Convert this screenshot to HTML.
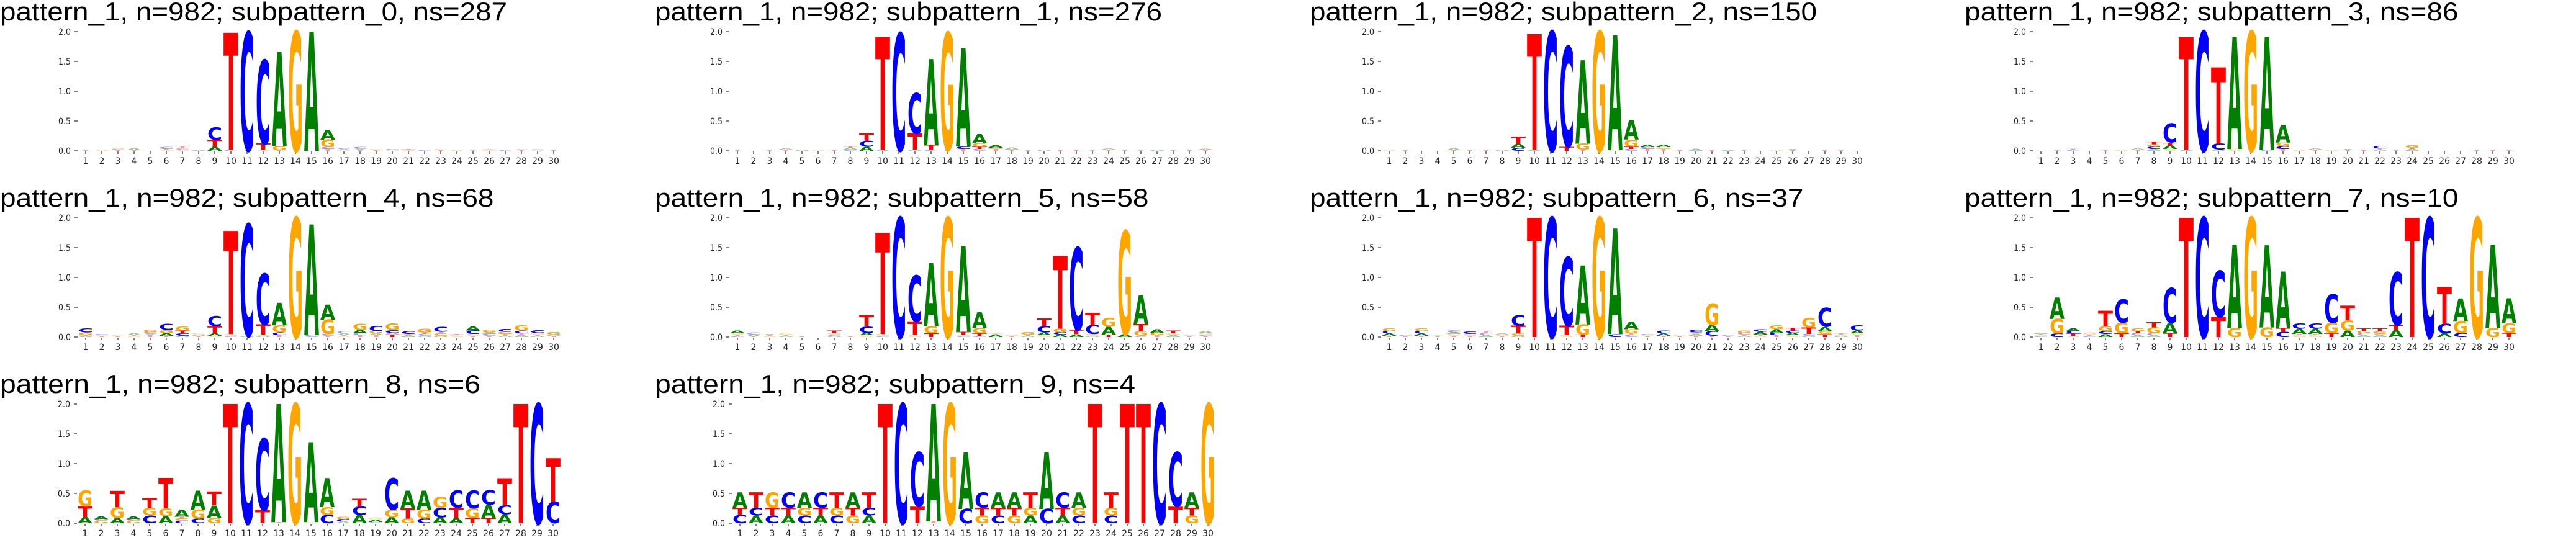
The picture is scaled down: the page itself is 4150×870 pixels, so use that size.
<!DOCTYPE html>
<html><head><meta charset="utf-8"><style>
html,body{margin:0;padding:0;background:#fff;width:4150px;height:870px;overflow:hidden}
svg{display:block}
.ttl{font-family:"Liberation Sans Narrow","Liberation Sans",sans-serif;font-size:42px;fill:#000}
.tk{font-family:"DejaVu Sans","Liberation Sans",sans-serif;font-size:14px;fill:#222}
.lt{font-family:"DejaVu Sans",sans-serif;font-weight:bold;font-size:100px}
</style></head><body>
<svg id="chart" width="4150" height="870" xmlns="http://www.w3.org/2000/svg"></svg>
<script>
// Data: per-panel titles, and per-position letter stacks (bottom to top), heights in hundredths of bits
const titles = [
 "pattern_1, n=982; subpattern_0, ns=287","pattern_1, n=982; subpattern_1, ns=276",
 "pattern_1, n=982; subpattern_2, ns=150","pattern_1, n=982; subpattern_3, ns=86",
 "pattern_1, n=982; subpattern_4, ns=68","pattern_1, n=982; subpattern_5, ns=58",
 "pattern_1, n=982; subpattern_6, ns=37","pattern_1, n=982; subpattern_7, ns=10",
 "pattern_1, n=982; subpattern_8, ns=6","pattern_1, n=982; subpattern_9, ns=4"];
const positions = [1,2,3,4,5,6,7,8,9,10,11,12,13,14,15,16,17,18,19,20,21,22,23,24,25,26,27,28,29,30];
const yTicks = [0.0,0.5,1.0,1.5,2.0];
const logo0 = ["T1","G2","T1C2G2","T1A3","","G2T1C3","G2C2T3","A1","A7T12C21","C1T197","T1C198","G2T10C140","T1G7A158","G200","A200","T3C3G13A16","G1A2C2","T1A2C3","T1G2","G1C2","G1T2","C2","T1G2","G2","T1","G1T1","C2","T1C1","G1C1","T1"];
const logo1 = ["T2","","T1","T2A2","A2","G1","T1","C2A3T2","A7C10T12","A1T190","T1C196","A2T27C68","C2T8A144","T2G196","T3C4A165","C3T4G6A15","T3G2A5","T2A3","T1","A2","T1","T2","T1","T2A2","T1","T1","A2","T1","T1","T2A1"];
const logo2 = ["G1","T1","","","T1A3","T1","T2","A2","C5A7T12","A1T195","C200","T7C168","T2G10A140","G200","G1A193","C3T4G12A33","T3C3A4","T3G3A4","T1","A3","T1","A1","T1","","G1","T1A2","","T1","T1",""];
const logo3 = ["","T1","C2T1","","T1","G1","T2A2","A3C4G4T5","G3A6T5C32","A1T190","C200","A2C10T128","G3A188","G200","C2A189","T3C5G6A30","G2","T2A2","G2","T1A2","T1","A2T2C4","T1","A3T2G4","","","","T1","T1","T1"];
const logo4 = ["A1T2G5C7","T1G2C2","T1G2","G2T1A3","T3A2C3G4","T2A5G5C10","A2C4T5G7","T2A2G2","G2A4T12C17","C2G3T173","A2C187","A2G2T17C85","T3C5G12A38","G200","C3A186","T2C3G24A25","G2T1A3C3","T3C3A6G10","T3A3G4C9","T4A3C5G11","A3T2C5","A2C3T3G6","A2G4T3C8","G3T2","T2G3C6A7","T2C3A3G4","A2T3G4C5","A3T3C5G9","A2T2G3C5","T2A2G4"];
const logo5 = ["C2T2G3A4","T1A3C3","G2T1A2","A2T1G3","T1","","A2C2G3T4","T1","G3A4C11T19","C2G3T170","C200","G3T23C77","T6G12A106","G200","C2G2T5A144","C2T4G9A27","A4T1","T2G1","A2T2G4","G3A5C10T13","A4C4G6T122","A5T7C138","A2G3C15T21","T4A13G15","A5G173","C2G8T12A48","T3G4A6","A3G3T5","T1C1","T2C2G3A3"];
const logo6 = ["T2A4C4G5","T1C2","T2A4C4G5","T1A1","T2G3A3C3","T2G3C4","A3C3T3","T2G2A2","A2G4T13C18","T200","C200","G3T16C115","T4G17A99","G200","C5A177","C3T3G7A13","T1G2C2","T2A4C5","T1G2","T2A3G3C4","T2C8A10G36","T1C2","A2T2C3G4","G2T2A5C4","T3C4A6G7","G3A4C4T5","A2C3T11G16","T5G5A7C32","A2G2T2","T3G3A5C9"];
const logo7 = ["C2G2T1A2","C6G24A36","G2T4C4A5","C2T2G3","A5C5G8T26","T6G18C39","A3C3T4G5","A3C3G10T9","T7A17C58","T200","C200","T34C77","G15A140","G200","G16A138","C9T6A95","G3T2A9C9","G3T2A9C9","T7G17C48","A11G17T24","A3C3G4T5","A3C2G5T5","A12T8C89","T200","C200","A6C16T62","C7G20A38","G200","G15A140","T7G16A42"];
const logo8 = ["A10T18G27","G4C3A5","A9G18T27","G4C3A5","C13G13T16","A12G13T51","C4G4T3A12","C8G15A32","G9A21T23","T200","C200","T22C120","T2A198","G200","G2A134","C14G13A49","A3C4G4","A14C14T13","C2A4G3","A10G13C53","G8T17A30","C8G15A32","A10C16G18","A9T17C29","T9G16C30","T9A22C24","A15C15T45","T200","C200","C36T73"];
const logo9 = ["C14T12A26","A13C13T26","C13T13G26","A13T13C26","C13G13A26","A13T13C26","C13G13T26","G13T13A26","A13C13T26","T200","C200","T28C91","T3A197","G200","C24A95","G13T13C26","C13T13A26","G13T13A26","A13G13T26","C24A95","A13T13C26","C13G13A26","T200","C13G13T26","T200","T200","C200","T28C91","G13T13A26","G200"];
const logos = [logo0,logo1,logo2,logo3,logo4,logo5,logo6,logo7,logo8,logo9];

const colors = {A:"#008000",C:"#0000ff",G:"#ffa500",T:"#ff0000"};
const panelX = [0,1055,2110,3165,0,1055,2110,3165,0,1055];
const panelY = [0,0,0,0,300,300,300,300,600,600];
const firstPos = [138,133,128,123,138,133,128,123,137,137];
const NS = "http://www.w3.org/2000/svg";
const svg = document.getElementById('chart');
function mk(tag, attrs, parent){const e=document.createElementNS(NS,tag);for(const k in attrs)e.setAttribute(k,attrs[k]);parent.appendChild(e);return e;}

logos.forEach((logo, p) => {
  const g = mk('g', {transform:`translate(${panelX[p]},${panelY[p]})`}, svg);
  
  
  const x0 = firstPos[p], step = 26, yBase = 243, perBit = 96;
  const xScale = i => x0 + (i - 1) * step;
  const yScale = v => yBase - v * perBit;
  const t = mk('text', {x:0, y:33, class:'ttl', textLength: titles[p].length*21.5, lengthAdjust:'spacingAndGlyphs'}, g);
  t.textContent = titles[p];
  
  
  yTicks.forEach(v => {
    const y = yScale(v);
    const tl = mk('line', {x1:x0-18, x2:x0-13, y1:y, y2:y, stroke:'#000', 'stroke-width':1}, g);
    
    
    const tx = mk('text', {x:x0-24, y:y+5, class:'tk', 'text-anchor':'end', textLength:20, lengthAdjust:'spacingAndGlyphs'}, g);
    tx.textContent = v.toFixed(1);
    
    
  });
  positions.forEach(pos => {
    const x = xScale(pos);
    const tm = mk('line', {x1:x, x2:x, y1:yBase+1, y2:yBase+5, stroke:'#000', 'stroke-width':1}, g);
    
    
    const lb = mk('text', {x:x, y:yBase+21, class:'tk', 'text-anchor':'middle'}, g);
    lb.textContent = pos;
    
    
    const spec = logo[pos-1] || "";
    const re = /([ACGT])(\d+)/g; let m; let cum = 0;
    while ((m = re.exec(spec))) {
      const L = m[1], h = parseInt(m[2]) / 100;
      const yb = yScale(cum), yt = yScale(cum + h);
      cum += h;
      const hp = yb - yt; if (hp <= 0) continue;
      const w = 24;
      const lt = mk('text', {class:'lt', x:0, y:0, textLength:w, lengthAdjust:'spacingAndGlyphs',
        fill: colors[L], opacity: h < 0.04 ? 0.4 : 1,
        transform:`translate(${x - w/2},${yb}) scale(1,${hp/72.9})`}, g);
      lt.textContent = L;
      
      
    }
  });
});
</script>
</body></html>
